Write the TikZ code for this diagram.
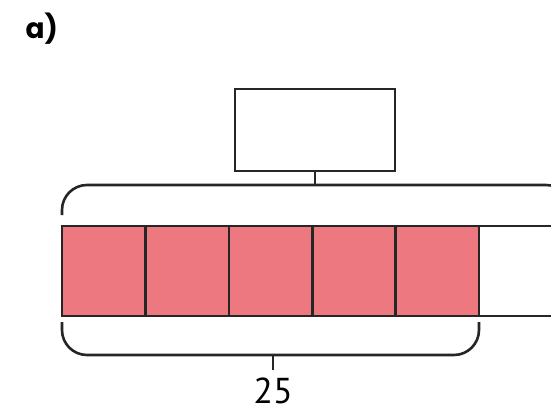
\documentclass[tikz,border=0pt]{standalone}
\usepackage{fontspec}
\setmainfont{Poppins}
\newfontfamily\numfont{PT Sans}
\definecolor{barpink}{HTML}{EE7880}
\definecolor{ink}{HTML}{262626}
\begin{document}
\begin{tikzpicture}[x=1pt,y=-1pt,
  cell/.style={draw=ink, line width=2.6pt, fill=barpink, minimum width=83.4pt,
    minimum height=90pt, inner sep=0pt, outer sep=0pt, anchor=north west},
  blank/.style={cell, fill=white, minimum width=120pt},
  answerbox/.style={draw=ink, line width=2.2pt, minimum width=160pt,
    minimum height=82pt, inner sep=0pt, anchor=north west},
  brace/.style={draw=ink, line width=2.6pt, rounded corners=25pt}]
\useasboundingbox (0,0) rectangle (551,409);
\clip (0,0) rectangle (551,409);
% heading
\node[font=\bfseries\fontsize{28}{30}\selectfont, anchor=west] (lbl) at (22,29) {a)};
% empty box for the whole
\node[answerbox] (whole) at (234,88) {};
% bar of five shaded parts and an open part
\node[cell] (c1) at (62,226) {};
\node[cell] (c2) at (c1.north east) {};
\node[cell] (c3) at (c2.north east) {};
\node[cell] (c4) at (c3.north east) {};
\node[cell] (c5) at (c4.north east) {};
\node[blank] (c6) at (c5.north east) {};
% top brace over the whole bar
\coordinate (tl) at (62,215);
\coordinate (tr) at (571,215);
\coordinate (tm) at (whole.south |- 0,185);
\draw[brace] (tl) -- (62,185) -- (571,185) -- (tr);
\draw[draw=ink, line width=2.2pt] (whole.south) -- (tm);
% bottom brace under the five shaded parts
\coordinate (bl) at (c1.south west |- 0,322);
\coordinate (br) at (c5.south east |- 0,322);
\draw[brace] (bl) -- (62,355) -- (c5.south east |- 0,355) -- (br);
\coordinate (bm) at (273,355);
\coordinate (bt) at (273,370);
\draw[draw=ink, line width=2.2pt] (bm) -- (bt);
\node[font=\numfont\fontsize{36}{38}\selectfont, anchor=base, inner sep=0pt] (total) at (273,403) {25};
\end{tikzpicture}
\end{document}
